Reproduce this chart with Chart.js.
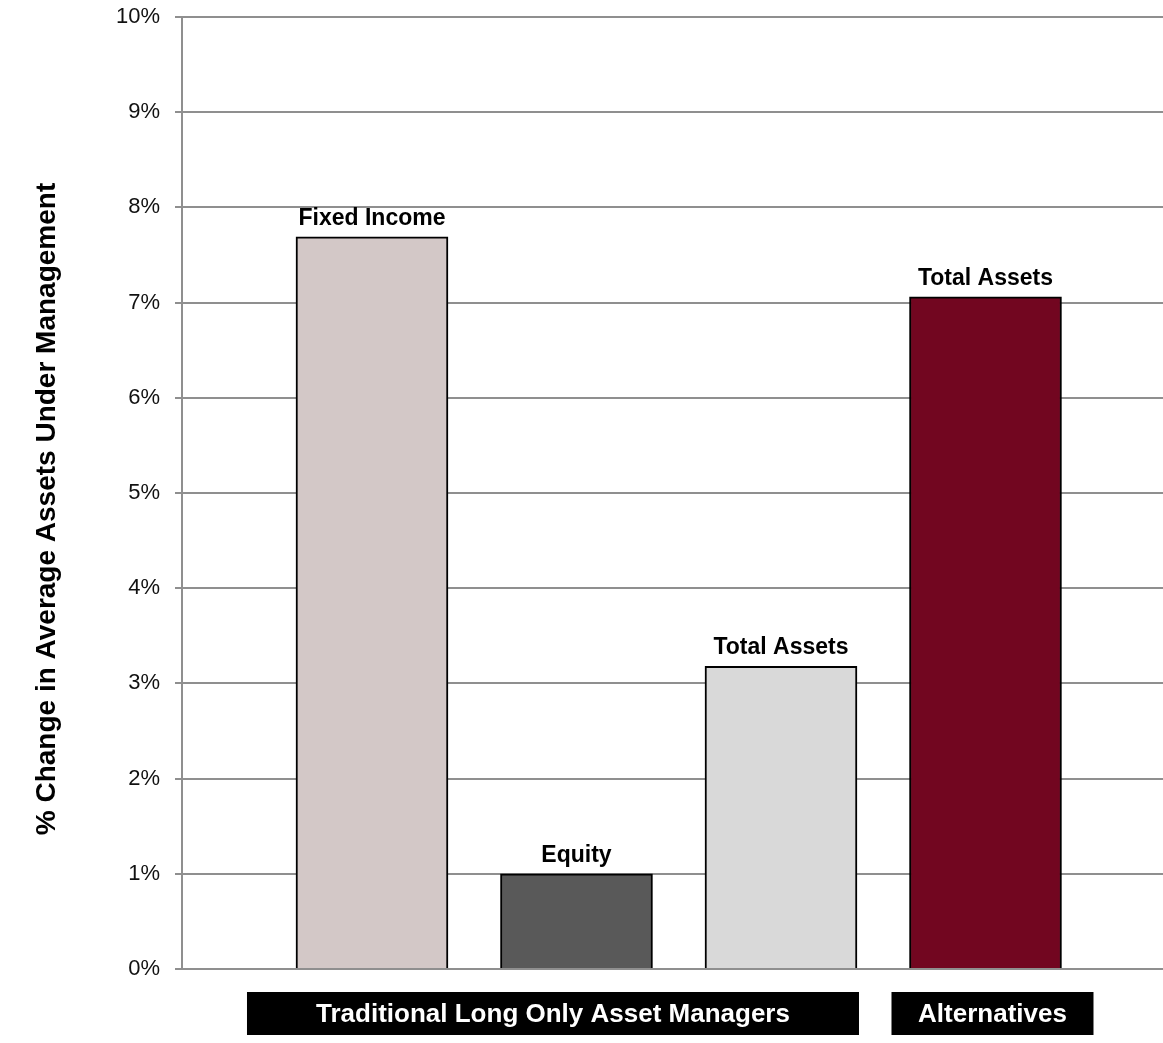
<!DOCTYPE html>
<html>
<head>
<meta charset="utf-8">
<script src="https://cdn.jsdelivr.net/npm/chart.js@4.4.1/dist/chart.umd.min.js"></script>
<style>
  html, body { margin: 0; padding: 0; background: #fff; }
  #wrap { width: 1163px; height: 1043px; }
</style>
</head>
<body>
<div id="wrap"><canvas id="aum-chart" width="1163" height="1043"></canvas></div>
<script>
/* ===== % change in average AUM ===== */

const barLabels = ['Fixed Income', 'Equity', 'Total Assets', 'Total Assets'];
const barPositions = [1, 2, 3, 4];
const aumChange = [7.69, 1.0, 3.18, 7.06];
const barColors = ['#D3C8C7', '#595959', '#D9D9D9', '#720620'];

const groupLabels = ['Traditional Long Only Asset Managers', 'Alternatives'];
const groupFirst = [1, 4];
const groupLast = [3, 4];

const yTickMax = 10;
const yTickStep = 1;
const yTitle = '% Change in Average Assets Under Management';

const FONT = '"Liberation Sans", Arial, sans-serif';

// labels above each bar
const barLabelPlugin = {
  id: 'barLabels',
  afterDatasetsDraw(chart) {
    const ctx = chart.ctx;
    const meta = chart.getDatasetMeta(0);
    ctx.save();
    ctx.font = 'bold 23px ' + FONT;
    ctx.fillStyle = '#000';
    ctx.textAlign = 'center';
    ctx.textBaseline = 'bottom';
    meta.data.forEach((bar, i) => {
      ctx.fillText(barLabels[i], bar.x, bar.y - 7);
    });
    ctx.restore();
  }
};

// black group boxes under the axis + rotated y title
const groupBoxPlugin = {
  id: 'groupBoxes',
  afterDraw(chart) {
    const ctx = chart.ctx;
    const x = chart.scales.x;
    const pads = [[125, 78], [94, 108]];
    const top = chart.chartArea.bottom + 23;
    const h = 43;
    ctx.save();
    groupLabels.forEach((lab, i) => {
      const left = x.getPixelForValue(groupFirst[i]) - pads[i][0];
      const right = x.getPixelForValue(groupLast[i]) + pads[i][1];
      ctx.fillStyle = '#000';
      ctx.fillRect(left, top, right - left, h);
      ctx.fillStyle = '#fff';
      ctx.font = 'bold 26px ' + FONT;
      ctx.textAlign = 'center';
      ctx.textBaseline = 'middle';
      ctx.fillText(lab, (left + right) / 2, top + h / 2 + 1);
    });

    ctx.translate(47, 509);
    ctx.rotate(-Math.PI / 2);
    ctx.fillStyle = '#000';
    ctx.font = 'bold 28px ' + FONT;
    ctx.textAlign = 'center';
    ctx.textBaseline = 'middle';
    ctx.fillText(yTitle, 0, 0);
    ctx.restore();
  }
};

const ctx = document.getElementById('aum-chart').getContext('2d');
new Chart(ctx, {
  type: 'bar',
  data: {
    datasets: [{
      data: barPositions.map((p, i) => ({ x: p, y: aumChange[i] })),
      backgroundColor: barColors,
      borderColor: '#000',
      borderWidth: 2,
      barThickness: 152
    }]
  },
  options: {
    responsive: false,
    animation: false,
    layout: { padding: { top: 17, bottom: 74, left: 0, right: 0 } },
    plugins: { legend: { display: false }, tooltip: { enabled: false } },
    scales: {
      x: {
        type: 'linear',
        display: false,
        offset: false,
        min: 0.071,
        max: 4.868
      },
      y: {
        min: 0,
        max: yTickMax,
        ticks: {
          stepSize: yTickStep,
          padding: 15,
          color: '#111',
          font: { family: FONT, size: 22 },
          callback: v => v + '%'
        },
        grid: { color: '#8f8f8f', lineWidth: 2, tickLength: 7 },
        border: { color: '#8f8f8f', width: 2 },
        afterFit(scale) {
          scale.width = 182;
          scale.paddingTop = 0;
          scale.paddingBottom = 0;
        }
      }
    }
  },
  plugins: [barLabelPlugin, groupBoxPlugin]
});
</script>
</body>
</html>
